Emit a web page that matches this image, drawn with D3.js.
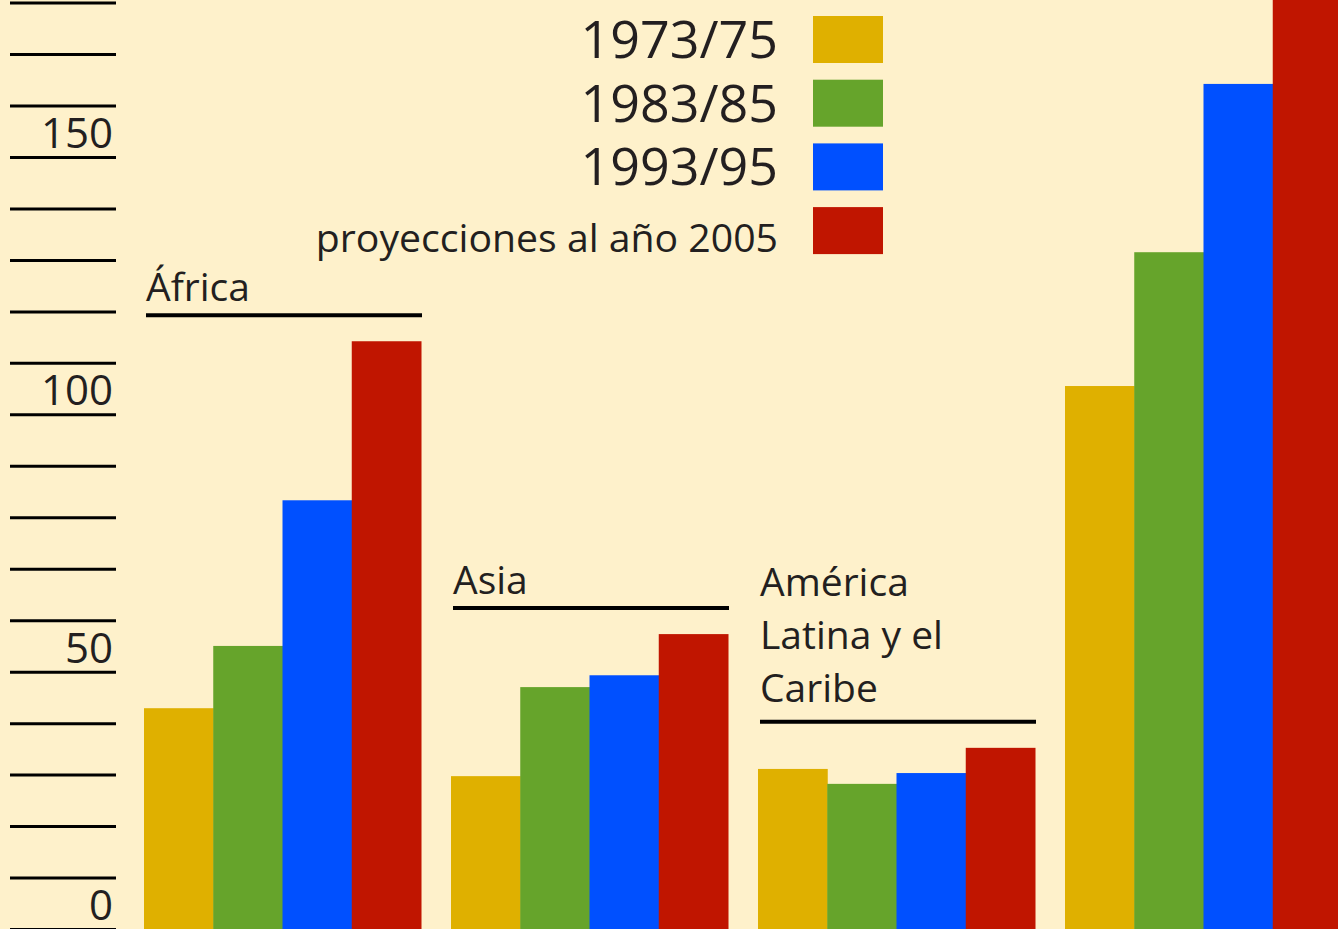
<!DOCTYPE html>
<html>
<head>
<meta charset="utf-8">
<script src="https://d3js.org/d3.v7.min.js"></script>
<style>
  body { margin: 0; background: #fef1cb; }
  text { font-family: "Open Sans", sans-serif; fill: #231f20; }
</style>
</head>
<body>
<div id="chart-area"></div>
<script>

var width = 1338,
    height = 929;

// Data
var regions = ["África", "Asia", "América Latina y el Caribe", ""];
var regionLines = [["África"], ["Asia"], ["América", "Latina y el", "Caribe"], []];
var periods = ["1973/75", "1983/85", "1993/95", "proyecciones al año 2005"];
var v1973 = [42.9, 29.7, 31.1, 105.5];
var v1983 = [55.0, 47.0, 28.2, 131.5];
var v1993 = [83.3, 49.3, 30.3, 164.2];
var v2005 = [114.2, 57.3, 35.2, 195];
var series = [v1973, v1983, v1993, v2005];
var colors = ["#dfb000", "#66a42b", "#0050ff", "#c01500"];
var tickValues = d3.range(0, 181, 10);
var tickLabels = [0, 50, 100, 150];

var svg = d3.select("#chart-area").append("svg")
    .attr("width", width)
    .attr("height", height);

svg.append("rect")
    .attr("width", width)
    .attr("height", height)
    .attr("fill", "#fef1cb");

// scales
var y = d3.scaleLinear()
    .domain([0, 150])
    .range([929, 157]);

var x0 = d3.scaleBand()
    .domain(regions.map(function(d, i) { return i; }))
    .range([144, 1342])
    .paddingInner(0.0977)
    .paddingOuter(0);

var x1 = d3.scaleBand()
    .domain(periods)
    .range([0, x0.bandwidth()]);

// y axis: long tick lines, labels sitting on top of them
var yAxis = d3.axisLeft(y)
    .tickValues(tickValues)
    .tickSize(106)
    .tickFormat("");

var axisG = svg.append("g")
    .attr("transform", "translate(116,0)")
    .call(yAxis);

axisG.select(".domain").remove();
axisG.selectAll(".tick line")
    .attr("stroke", "#000")
    .attr("stroke-width", 3);

svg.append("g")
    .selectAll("text")
    .data(tickLabels)
    .enter()
    .append("text")
    .attr("x", 113)
    .attr("y", function(d) { return y(d) - 9; })
    .attr("text-anchor", "end")
    .style("font-size", "42px")
    .text(function(d) { return d; });

// bars
var groupG = svg.selectAll(".region")
    .data(regions)
    .enter()
    .append("g")
    .attr("class", "region")
    .attr("transform", function(d, i) { return "translate(" + x0(i) + ",0)"; });

groupG.selectAll("rect")
    .data(function(d, i) {
      return series.map(function(s, j) { return { period: periods[j], value: s[i], color: colors[j] }; });
    })
    .enter()
    .append("rect")
    .attr("x", function(d) { return x1(d.period); })
    .attr("width", x1.bandwidth() + 0.5)
    .attr("y", function(d) { return y(d.value); })
    .attr("height", function(d) { return y(0) - y(d.value); })
    .attr("fill", function(d) { return d.color; });

// region labels with underline above the tallest bar
groupG.each(function(d, i) {
  var lines = regionLines[i];
  if (!lines.length) return;
  var g = d3.select(this);
  var top = y(d3.max(series, function(s) { return s[i]; }));
  var lineY = top - 26;
  g.append("line")
    .attr("x1", 2)
    .attr("x2", x0.bandwidth() + 1)
    .attr("y1", lineY)
    .attr("y2", lineY)
    .attr("stroke", "#000")
    .attr("stroke-width", 4);
  var last = lines.length > 1 ? lineY - 20 : lineY - 14;
  g.selectAll(".lbl")
    .data(lines)
    .enter()
    .append("text")
    .attr("class", "lbl")
    .attr("x", 2)
    .attr("y", function(t, k) { return last - (lines.length - 1 - k) * 53; })
    .style("font-size", "39px")
    .text(function(t) { return t; });
});

// legend
var legend = svg.selectAll(".legend")
    .data(periods)
    .enter()
    .append("g")
    .attr("class", "legend")
    .attr("transform", function(d, i) { return "translate(0," + (16 + i * 63.7) + ")"; });

legend.append("rect")
    .attr("x", 813)
    .attr("width", 70)
    .attr("height", 47)
    .attr("fill", function(d, i) { return colors[i]; });

legend.append("text")
    .attr("x", 778)
    .attr("y", function(d, i) { return i < 3 ? 42 : 45; })
    .attr("text-anchor", "end")
    .style("font-size", function(d, i) { return i < 3 ? "52px" : "39.2px"; })
    .text(function(d) { return d; });

</script>
</body>
</html>
